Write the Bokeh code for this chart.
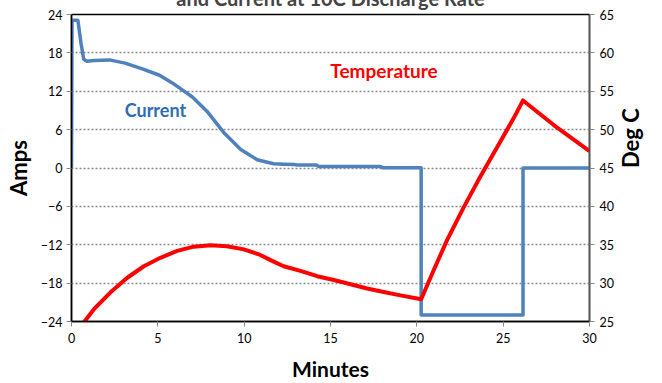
import math
from bokeh.plotting import figure
from bokeh.models import Range1d, LinearAxis, Label, FixedTicker
from bokeh.embed import file_html
from bokeh.resources import INLINE

# ---- data ----
cur_t = [0, 0.03, 0.37, 0.55, 0.71, 0.9, 1.3, 2.2, 3.1, 4.1, 5.1, 6.0, 7.0, 7.9,
         8.8, 9.8, 10.75, 11.7, 12.3, 12.9, 13.1, 14.2,
         14.3, 17.9, 18.0, 20.25, 20.25, 26.15, 26.15, 30]
cur_a = [0, 23.1, 23.1, 19.5, 17.0, 16.7, 16.8, 16.9, 16.4, 15.5, 14.5, 13.0, 11.1, 8.7,
         5.6, 2.9, 1.3, 0.67, 0.6, 0.55, 0.45, 0.45,
         0.25, 0.25, 0.05, 0.05, -23, -23, 0, 0]

tmp_t = [0.72, 1.3, 2.26, 3.23, 4.19, 5.15, 6.12, 7.08, 8.05, 9.0, 9.98, 10.9, 11.8,
         12.29, 13.26, 14.23, 15.19, 16.16, 17.12, 18.08, 19.05, 20.25, 21.0, 21.75,
         22.72, 23.68, 24.65, 25.61, 26.15, 27.93, 30]
tmp_d = [24.9, 26.6, 28.8, 30.7, 32.2, 33.3, 34.2, 34.75, 34.95, 34.8, 34.4, 33.7, 32.7,
         32.2, 31.6, 30.9, 30.4, 29.85, 29.3, 28.85, 28.4, 27.9, 31.8, 35.6,
         39.9, 43.9, 47.7, 51.5, 53.8, 50.6, 47.2]

amp_ticks = [-24, -18, -12, -6, 0, 6, 12, 18, 24]
deg_ticks = [25, 30, 35, 40, 45, 50, 55, 60, 65]
min_ticks = [0, 5, 10, 15, 20, 25, 30]

title_text = "and Current at 10C Discharge Rate"

FONT = "Lato"
SHIFT = 44

p = figure(width=662, height=383 + SHIFT, x_range=Range1d(0, 30), y_range=Range1d(-24, 24),
           output_backend="svg", toolbar_location=None,
           min_border_left=71, min_border_right=73, min_border_top=14 + SHIFT,
           min_border_bottom=61,
           x_axis_label="Minutes", y_axis_label="Amps")
p.styles = {"margin-top": f"-{SHIFT}px"}
p.extra_y_ranges = {"deg": Range1d(25, 65)}

p.title.text = title_text
p.title.align = "center"
p.title.text_font = FONT
p.title.text_font_size = "20px"
p.title.text_font_style = "bold"
p.title.standoff = 9
p.title.offset = 0

p.background_fill_color = "white"
p.border_fill_color = "white"
p.outline_line_color = "black"
p.outline_line_width = 1.5

p.xgrid.visible = False
p.ygrid.ticker = FixedTicker(ticks=amp_ticks)
p.ygrid.grid_line_color = "#8a8a8a"
p.ygrid.grid_line_dash = "2 2"
p.ygrid.grid_line_width = 1.5

def style_axis(ax, line_color, label_size="22px"):
    ax.axis_line_color = line_color
    ax.axis_line_width = 1.5
    ax.major_tick_line_color = "#868686"
    ax.major_tick_out = 5
    ax.major_tick_in = 0
    ax.minor_tick_line_color = None
    ax.major_label_text_font = FONT
    ax.major_label_text_font_size = "12.5px"
    ax.major_label_text_color = "black"
    ax.axis_label_text_font = FONT
    ax.axis_label_text_font_style = "bold"
    ax.axis_label_text_font_size = label_size
    ax.axis_label_text_color = "black"

p.xaxis.ticker = FixedTicker(ticks=min_ticks)
style_axis(p.xaxis[0], "black", "21px")
p.xaxis.major_label_standoff = 6
p.xaxis.axis_label_standoff = 10
p.yaxis.ticker = FixedTicker(ticks=amp_ticks)
style_axis(p.yaxis[0], "black")
p.yaxis.major_label_standoff = 4
p.yaxis.axis_label_standoff = 6

ax_r = LinearAxis(y_range_name="deg", ticker=FixedTicker(ticks=deg_ticks), axis_label="Deg C")
style_axis(ax_r, "#555555")
ax_r.major_label_standoff = 5
ax_r.axis_label_standoff = 14
try:
    ax_r.axis_label_orientation = math.pi / 2
except Exception:
    pass
p.add_layout(ax_r, "right")

p.line(cur_t, cur_a, line_color="#4F81BD", line_width=3.5, line_join="round")
p.line(tmp_t, tmp_d, y_range_name="deg", line_color="#FF0000", line_width=4, line_join="round")

def lab(x, y, text, size, color="black"):
    p.add_layout(Label(x=x, y=y, text=text, text_font=FONT, text_font_size=size,
                       text_font_style="bold", text_color=color, text_align="center",
                       text_baseline="middle"))

lab(4.86, 9.1, "Current", "18px", "#2E6DB4")
lab(18.1, 15.2, "Temperature", "19px", "#FF0000")

open("out.html", "w").write(file_html(p, INLINE))
